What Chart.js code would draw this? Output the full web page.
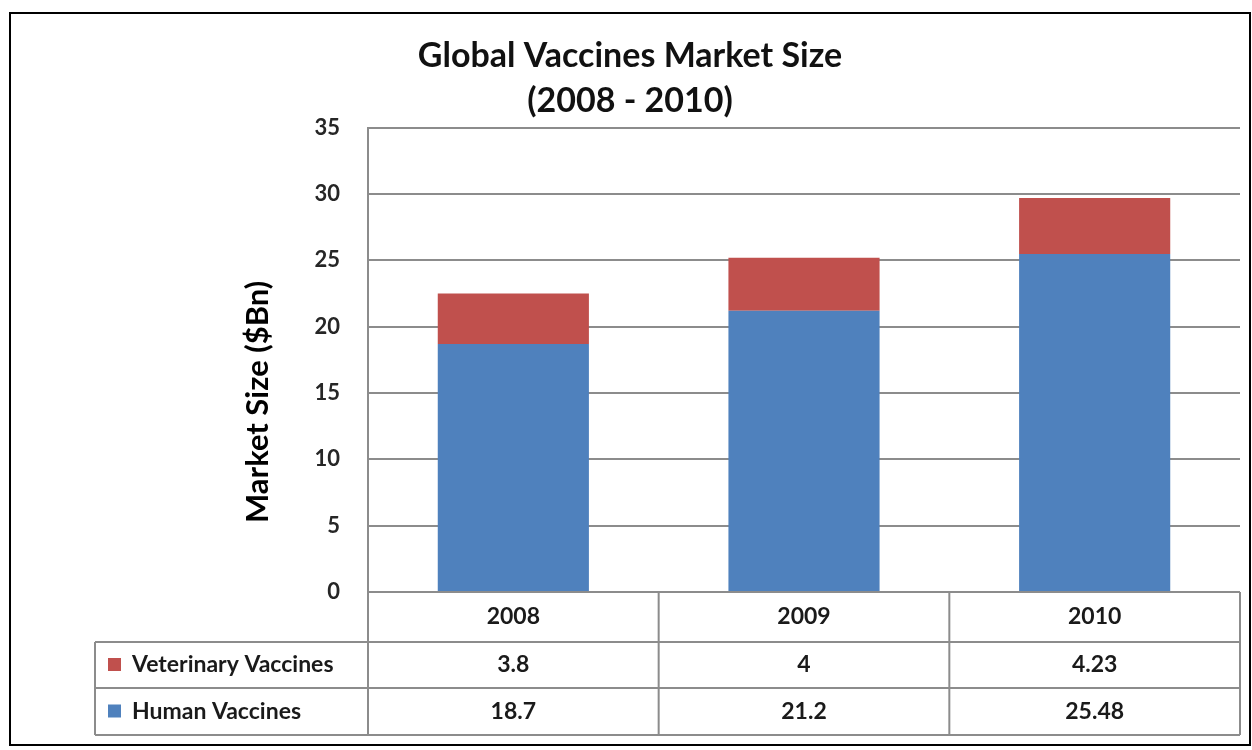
<!DOCTYPE html>
<html>
<head>
<meta charset="utf-8">
<script src="https://cdn.jsdelivr.net/npm/chart.js@4.4.1/dist/chart.umd.min.js"></script>
<style>
  html, body { margin: 0; padding: 0; background: #fff; }
  #wrap { width: 1252px; height: 750px; }
</style>
</head>
<body>
<div id="wrap"><canvas id="chart" width="1252" height="750"></canvas></div>
<script>
// Données
const years = ['2008', '2009', '2010'];
const humanVaccines = [18.7, 21.2, 25.48];
const veterinaryVaccines = [3.8, 4, 4.23];
const seriesNames = ['Veterinary Vaccines', 'Human Vaccines'];
const yTicks = [0, 5, 10, 15, 20, 25, 30, 35];
const yAxisTitle = 'Market Size ($Bn)';

const BLUE = '#4F81BD';
const RED = '#C0504D';
const GRID = '#8c8c8c';
const FONT = "Lato, 'Open Sans', sans-serif";

// Fond blanc + cadre noir
const framePlugin = {
    id: 'frame',
    beforeDraw(chart) {
        const ctx = chart.ctx;
        ctx.save();
        ctx.fillStyle = '#fff';
        ctx.fillRect(0, 0, chart.width, chart.height);
        ctx.strokeStyle = '#000';
        ctx.lineWidth = 2;
        ctx.strokeRect(10, 13, 1240, 732);
        ctx.restore();
    }
};

// Titre de l'axe Y (centré sur graphique + tableau, comme Excel)
const yTitlePlugin = {
    id: 'yTitle',
    afterDraw(chart) {
        const ctx = chart.ctx;
        const area = chart.chartArea;
        ctx.save();
        ctx.translate(258, (area.top + area.bottom) / 2 + 42);
        ctx.rotate(-Math.PI / 2);
        ctx.fillStyle = '#000';
        ctx.font = `bold 31px ${FONT}`;
        ctx.textAlign = 'center';
        ctx.textBaseline = 'middle';
        ctx.fillText(yAxisTitle, 0, 0);
        ctx.restore();
    }
};

// Tableau de données sous le graphique
const dataTablePlugin = {
    id: 'dataTable',
    afterDraw(chart) {
        const ctx = chart.ctx;
        const x = chart.scales.x;
        const area = chart.chartArea;
        const slot = (x.getPixelForValue(1) - x.getPixelForValue(0));
        const left = area.left, right = area.right;
        const labelLeft = 95;
        const rows = [area.bottom, area.bottom + 50, area.bottom + 96, area.bottom + 143];

        ctx.save();
        ctx.strokeStyle = GRID;
        ctx.lineWidth = 2;
        ctx.beginPath();
        // lignes horizontales
        ctx.moveTo(left, rows[0]); ctx.lineTo(right, rows[0]);
        for (let i = 1; i < rows.length; i++) {
            ctx.moveTo(labelLeft, rows[i]); ctx.lineTo(right, rows[i]);
        }
        // lignes verticales
        ctx.moveTo(labelLeft, rows[1]); ctx.lineTo(labelLeft, rows[3]);
        years.forEach((y, i) => {
            const c = x.getPixelForValue(i);
            ctx.moveTo(c - slot / 2, rows[0]); ctx.lineTo(c - slot / 2, rows[3]);
        });
        ctx.moveTo(right, rows[0]); ctx.lineTo(right, rows[3]);
        ctx.stroke();

        ctx.fillStyle = '#1a1a1a';
        ctx.font = `bold 23px ${FONT}`;
        ctx.textAlign = 'center';
        ctx.textBaseline = 'middle';
        years.forEach((y, i) => {
            const c = x.getPixelForValue(i);
            ctx.fillText(y, c, (rows[0] + rows[1]) / 2);
            ctx.fillText(String(veterinaryVaccines[i]), c, (rows[1] + rows[2]) / 2);
            ctx.fillText(String(humanVaccines[i]), c, (rows[2] + rows[3]) / 2);
        });

        // légende dans la première colonne
        const keys = [RED, BLUE];
        ctx.textAlign = 'left';
        seriesNames.forEach((name, i) => {
            const cy = (rows[i + 1] + rows[i + 2]) / 2;
            ctx.fillStyle = keys[i];
            ctx.fillRect(labelLeft + 13, cy - 7, 13, 13);
            ctx.fillStyle = '#1a1a1a';
            ctx.fillText(name, labelLeft + 37, cy);
        });
        ctx.restore();
    }
};

new Chart(document.getElementById('chart'), {
    type: 'bar',
    data: {
        labels: years,
        datasets: [
            { label: 'Human Vaccines', data: humanVaccines, backgroundColor: BLUE, stack: 's' },
            { label: 'Veterinary Vaccines', data: veterinaryVaccines, backgroundColor: RED, stack: 's' }
        ]
    },
    options: {
        responsive: false,
        animation: false,
        layout: { padding: { left: 20, right: 12, top: 20, bottom: 158 } },
        datasets: { bar: { categoryPercentage: 1, barPercentage: 0.52 } },
        plugins: {
            legend: { display: false },
            tooltip: { enabled: false },
            title: {
                display: true,
                text: ['Global Vaccines Market Size', '(2008 - 2010)'],
                color: '#111',
                font: { family: FONT, size: 34, weight: 'bold', lineHeight: 1.32 },
                padding: { top: 14, bottom: 4 }
            }
        },
        scales: {
            x: {
                display: false,
                stacked: true
            },
            y: {
                stacked: true,
                min: 0,
                max: 35,
                afterBuildTicks(scale) { scale.ticks = yTicks.map(v => ({ value: v })); },
                afterFit(scale) { scale.width = 348; },
                grid: { color: GRID, lineWidth: 2, drawTicks: false },
                border: { color: GRID, width: 2 },
                ticks: {
                    padding: 28,
                    color: '#262626',
                    font: { family: FONT, size: 22, weight: 'bold' }
                }
            }
        }
    },
    plugins: [framePlugin, yTitlePlugin, dataTablePlugin]
});
</script>
</body>
</html>
